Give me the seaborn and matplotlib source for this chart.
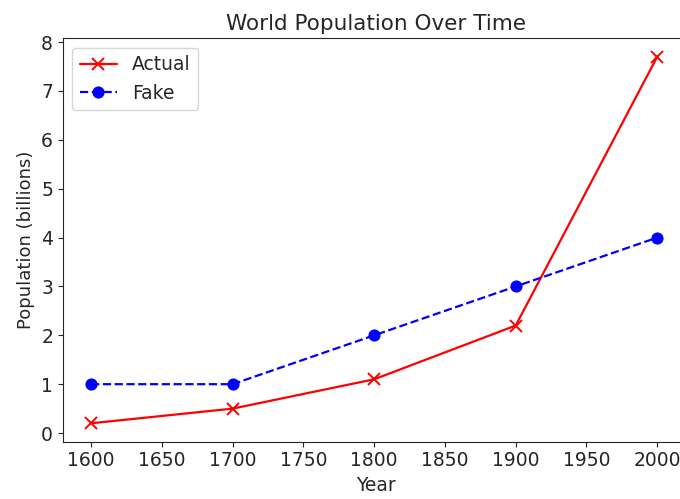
import numpy as np
import pandas as pd
import seaborn as sns
import matplotlib
matplotlib.use("Agg")
from matplotlib import pyplot as plt

years = [1600, 1700, 1800, 1900, 2000]
actual = [0.2, 0.5, 1.1, 2.2, 7.7]
fake = [1, 1, 2, 3, 4]

df = pd.DataFrame({"Year": years, "Actual": actual, "Fake": fake})

sns.set_style("ticks")
plt.rcParams["font.family"] = ["DejaVu Sans"]

fig = plt.figure(figsize=(6.8, 4.99), dpi=100)
# right spine falls just outside the picture, like the cropped original
ax = fig.add_axes([0.0923, 0.115, 0.92, 0.808])

sns.lineplot(data=df, x="Year", y="Actual", ax=ax, color="red", marker="x",
             markersize=9, markeredgewidth=1.4, markeredgecolor="red",
             linewidth=1.6, label="Actual")
sns.lineplot(data=df, x="Year", y="Fake", ax=ax, color="blue", marker="o",
             markersize=8, markeredgecolor="blue", linestyle="--",
             linewidth=1.6, label="Fake")

ax.set_xlim(1580, 2022)
ax.set_ylim(-0.175, 8.075)
ax.set_xticks(np.arange(1600, 2001, 50))
ax.set_title("World Population Over Time", fontsize=15.5)
ax.set_xlabel("Year", fontsize=13.5)
ax.set_ylabel("Population (billions)", fontsize=13)
ax.tick_params(labelsize=13.5)
ax.legend(loc="upper left", fontsize=13.5)

fig.savefig("out.png", dpi=100)
